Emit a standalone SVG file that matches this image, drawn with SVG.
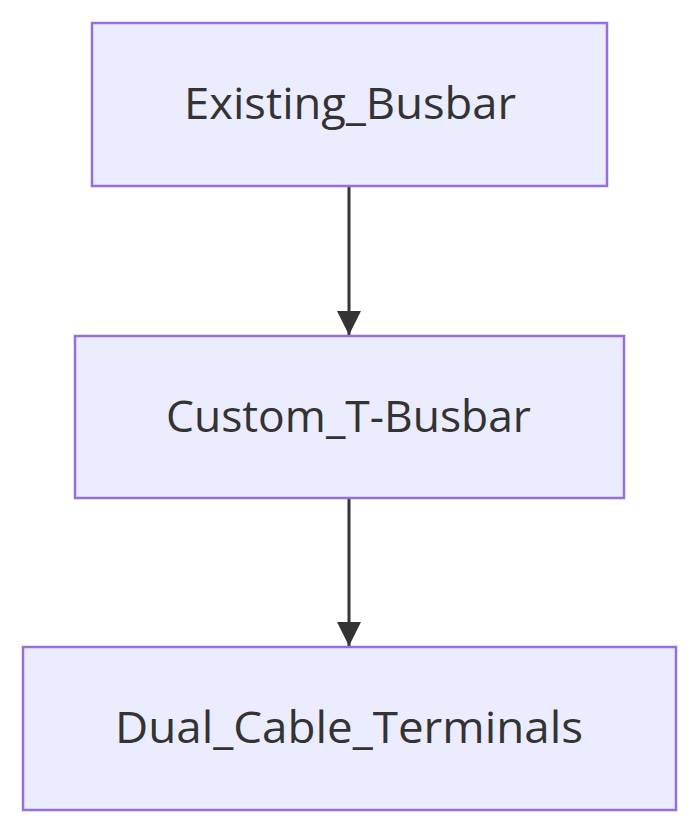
<svg xmlns="http://www.w3.org/2000/svg" width="699" height="834" viewBox="0 0 699 834">
<style>
.node rect{fill:#ECECFF;stroke:#9370DB;stroke-width:2.5}
.node text{font-family:"Open Sans","Liberation Sans",sans-serif;font-size:44px;fill:#333333;text-anchor:middle}
.edge{stroke:#333333;stroke-width:3;fill:none}
</style>
<defs>
<marker id="arrow" markerUnits="userSpaceOnUse" markerWidth="26" markerHeight="24" refX="24" refY="12" orient="auto">
<path d="M0,0 L24,12 L0,24 z" fill="#333333"/>
</marker>
</defs>
<rect width="699" height="834" fill="#ffffff"/>
<g id="edges">
<path class="edge" d="M349,186 L349,335" marker-end="url(#arrow)"/>
<path class="edge" d="M349,498 L349,646" marker-end="url(#arrow)"/>
</g>
<g id="Existing_Busbar" class="node">
<rect x="92" y="23" width="515" height="163"/>
<text x="350" y="119" textLength="332" lengthAdjust="spacingAndGlyphs">Existing_Busbar</text>
</g>
<g id="Custom_T-Busbar" class="node">
<rect x="75" y="336" width="549" height="162"/>
<text x="348.5" y="432" textLength="365" lengthAdjust="spacingAndGlyphs">Custom_T-Busbar</text>
</g>
<g id="Dual_Cable_Terminals" class="node">
<rect x="23" y="647" width="653" height="163"/>
<text x="349" y="743" textLength="468" lengthAdjust="spacingAndGlyphs">Dual_Cable_Terminals</text>
</g>
</svg>
